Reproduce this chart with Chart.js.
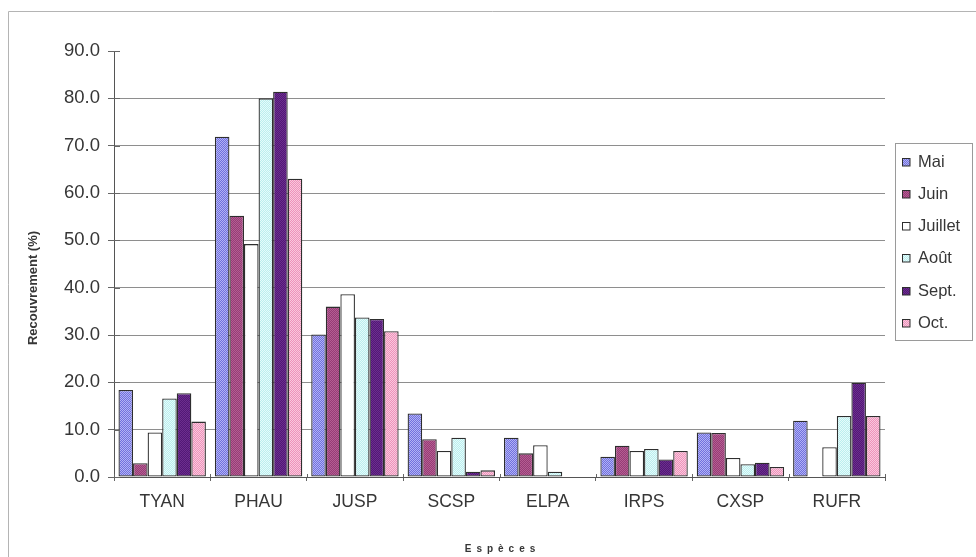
<!DOCTYPE html>
<html>
<head>
<meta charset="utf-8">
<script src="https://cdn.jsdelivr.net/npm/chart.js@4"></script>
<style>
  html, body { margin: 0; padding: 0; background: #ffffff; }
  #wrap { width: 976px; height: 557px; position: relative; }
</style>
</head>
<body>
<div id="wrap"><canvas id="c" width="976" height="557"></canvas></div>
<script>
// Species codes along the x axis
const species = ['TYAN', 'PHAU', 'JUSP', 'SCSP', 'ELPA', 'IRPS', 'CXSP', 'RUFR'];
// Sampling months (one series each)
const months = ['Mai', 'Juin', 'Juillet', 'Août', 'Sept.', 'Oct.'];

// Cover (%) per species, one array per month
const mai     = [18.4, 71.9, 30.1, 13.4, 8.3, 4.3, 9.4, 11.9];
const juin    = [2.9, 55.2, 36.0, 8.0, 5.0, 6.6, 9.3, 0];
const juillet = [9.4, 49.2, 38.6, 5.5, 6.7, 5.5, 4.0, 6.3];
const aout    = [16.6, 80.0, 33.7, 8.3, 1.1, 5.9, 2.7, 12.9];
const sept    = [17.7, 81.4, 33.4, 1.1, 0, 3.7, 3.0, 19.9];
const oct     = [11.7, 63.0, 30.8, 1.4, 0, 5.5, 2.1, 12.9];

// Y axis range and step
const yMin = 0, yMax = 90, yStep = 10;

const FONT = "'Liberation Sans', Arial, sans-serif";
const TEXT = '#363636';

// Fine two-tone texture for bar fills
function texture(base, light) {
  const c = document.createElement('canvas');
  c.width = 2; c.height = 2;
  const g = c.getContext('2d');
  g.fillStyle = base; g.fillRect(0, 0, 2, 2);
  g.fillStyle = light; g.fillRect(0, 0, 1, 1); g.fillRect(1, 1, 1, 1);
  return g.createPattern(c, 'repeat');
}

const fills = [
  texture('#7070de', '#b2b2f4'),
  texture('#963c76', '#b45e92'),
  '#ffffff',
  texture('#bbeeee', '#e4fbfb'),
  texture('#521876', '#6c2e8e'),
  texture('#ee92bb', '#f9c8dd')
];

const seriesValues = [mai, juin, juillet, aout, sept, oct];

const datasets = months.map((m, i) => ({
  label: m,
  data: seriesValues[i],
  backgroundColor: fills[i],
  borderColor: '#2e2e2e',
  borderWidth: ctx => (ctx.raw === 0 ? 0 : 1.3),
  borderSkipped: false,
  barPercentage: 1.0,
  categoryPercentage: 0.907
}));

// Frame, crossing tick stubs, legend and axis titles
const decor = {
  id: 'decor',
  afterDraw(chart) {
    const ctx = chart.ctx;
    const xs = chart.scales.x, ys = chart.scales.y;
    const area = chart.chartArea;
    ctx.save();

    // outer frame (top and left edges)
    ctx.strokeStyle = '#b4b4b4';
    ctx.lineWidth = 1;
    ctx.beginPath();
    ctx.moveTo(8.5, 557); ctx.lineTo(8.5, 11.5); ctx.lineTo(976, 11.5);
    ctx.stroke();

    // inner halves of the crossing tick marks
    ctx.strokeStyle = '#666666';
    ctx.beginPath();
    ys.ticks.forEach(t => {
      const y = Math.round(ys.getPixelForValue(t.value)) + 0.5;
      ctx.moveTo(area.left, y); ctx.lineTo(area.left + 6, y);
    });
    const w = (xs.right - xs.left) / species.length;
    for (let i = 0; i <= species.length; i++) {
      const x = Math.round(xs.left + i * w) + 0.5;
      ctx.moveTo(x, area.bottom); ctx.lineTo(x, area.bottom - 3);
    }
    ctx.stroke();

    // legend box
    const lx = 895.5, ly = 143.5, lw = 77, lh = 197;
    ctx.fillStyle = '#ffffff';
    ctx.fillRect(lx, ly, lw, lh);
    ctx.strokeStyle = '#9a9a9a';
    ctx.strokeRect(lx, ly, lw, lh);
    ctx.font = '16.5px ' + FONT;
    ctx.textBaseline = 'middle';
    ctx.textAlign = 'left';
    months.forEach((m, i) => {
      const cy = 161.5 + i * 32.3;
      ctx.fillStyle = fills[i];
      ctx.fillRect(902, Math.round(cy - 4), 8, 8);
      ctx.strokeStyle = '#2e2e2e';
      ctx.strokeRect(902.5, Math.round(cy - 4) + 0.5, 7.5, 7.5);
      ctx.fillStyle = TEXT;
      ctx.fillText(m, 918, cy + 0.5);
    });

    // y axis title
    ctx.save();
    ctx.translate(33, 288);
    ctx.rotate(-Math.PI / 2);
    ctx.font = 'bold 13px ' + FONT;
    ctx.textAlign = 'center';
    ctx.fillStyle = TEXT;
    ctx.fillText('Recouvrement (%)', 0, 0);
    ctx.restore();

    // x axis title, letter-spaced
    const title = 'Espèces';
    const gap = 5;
    ctx.font = 'bold 10px ' + FONT;
    ctx.textAlign = 'left';
    ctx.fillStyle = TEXT;
    const widths = [...title].map(ch => ctx.measureText(ch).width);
    const total = widths.reduce((a, b) => a + b, 0) + gap * (title.length - 1);
    let x = 500 - total / 2;
    [...title].forEach((ch, i) => {
      ctx.fillText(ch, x, 549);
      x += widths[i] + gap;
    });

    ctx.restore();
  }
};

new Chart(document.getElementById('c'), {
  type: 'bar',
  data: { labels: species, datasets },
  plugins: [decor],
  options: {
    responsive: false,
    animation: false,
    devicePixelRatio: 1,
    layout: { padding: { left: 0, top: 51, right: 91, bottom: 0 } },
    plugins: { legend: { display: false }, tooltip: { enabled: false }, title: { display: false } },
    scales: {
      x: {
        grid: { offset: true, drawOnChartArea: false, tickLength: 4, color: '#666666' },
        border: { color: '#555555', width: 1 },
        ticks: { font: { family: FONT, size: 17.5 }, color: TEXT, padding: 11 },
        afterFit(s) { s.height = 80; }
      },
      y: {
        min: yMin, max: yMax,
        grid: {
          color: c => (c.tick && c.tick.value === yMax ? 'rgba(0,0,0,0)' : '#8e8e8e'),
          tickColor: '#666666',
          tickLength: 6
        },
        border: { color: '#555555', width: 1 },
        ticks: {
          stepSize: yStep,
          font: { family: FONT, size: 18.5 },
          color: TEXT,
          padding: 8,
          callback: v => Number(v).toFixed(1)
        },
        afterFit(s) { s.width = 114; }
      }
    }
  }
});
</script>
</body>
</html>
